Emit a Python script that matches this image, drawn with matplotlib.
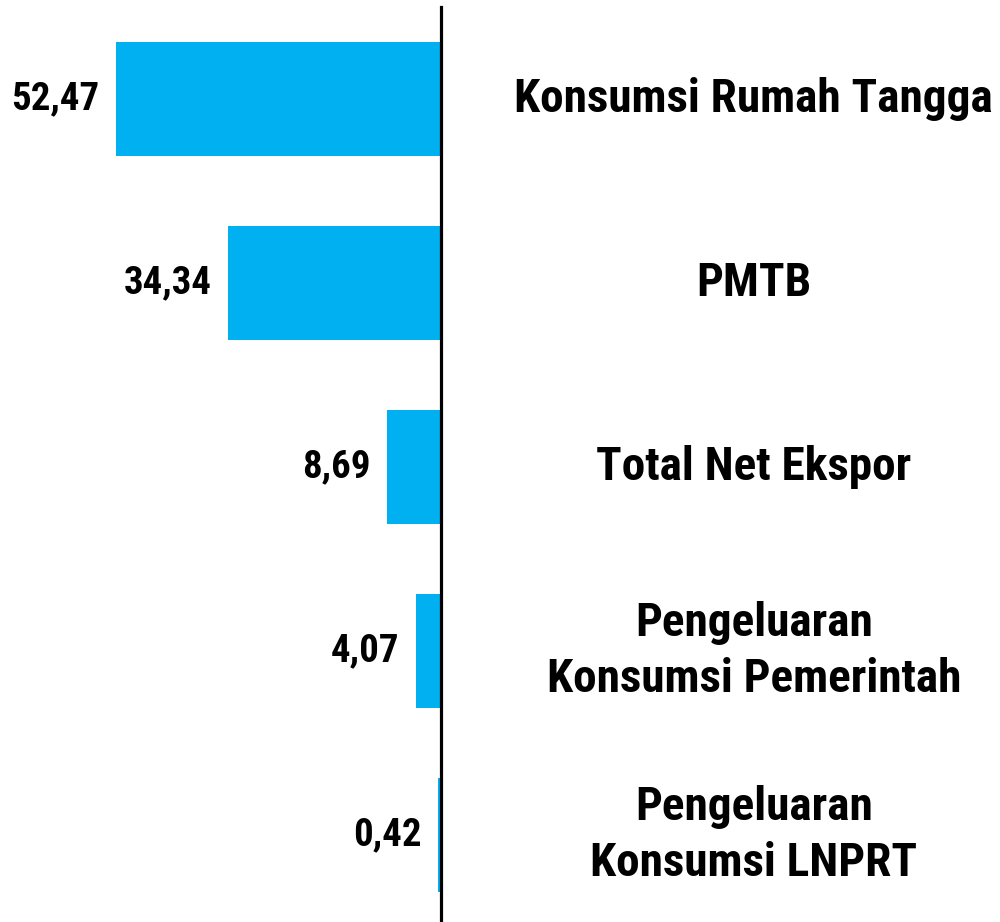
import matplotlib.pyplot as plt
from matplotlib import font_manager

categories = [
    "Konsumsi Rumah Tangga",
    "PMTB",
    "Total Net Ekspor",
    "Pengeluaran\nKonsumsi Pemerintah",
    "Pengeluaran\nKonsumsi LNPRT",
]
shares = [52.47, 34.34, 8.69, 4.07, 0.42]
value_labels = ["52,47", "34,34", "8,69", "4,07", "0,42"]

# narrow bold face, as in the reference
names = {f.name for f in font_manager.fontManager.ttflist}
narrow = [n for n in ["Liberation Sans Narrow", "Roboto Condensed", "Open Sans Condensed"] if n in names]
plt.rcParams["font.family"] = narrow + ["DejaVu Sans"]
stretch = "normal" if narrow else "condensed"

fig = plt.figure(figsize=(10, 9.22), dpi=100)
ax = fig.add_axes([0, 0, 1, 1])

pos = list(range(len(categories)))
ax.barh(pos, [-v for v in shares], height=0.62, color="#00b0f0")

# vertical zero line
ax.axvline(0, ymin=0, ymax=0.992, color="black", linewidth=2.3)

for i, (v, lab, cat) in enumerate(zip(shares, value_labels, categories)):
    ax.annotate(lab, xy=(-v, i), xytext=(-12, 0), textcoords="offset points",
                ha="right", va="center", fontsize=28, fontweight="bold",
                fontstretch=stretch)
    ax.text(50.5, i, cat, ha="center", va="center", fontsize=34,
            fontweight="bold", fontstretch=stretch, linespacing=1.36)

ax.set_xlim(-71.2, 90.25)
ax.set_ylim(4.473, -0.538)
ax.axis("off")

fig.savefig("out.png", dpi=100)
